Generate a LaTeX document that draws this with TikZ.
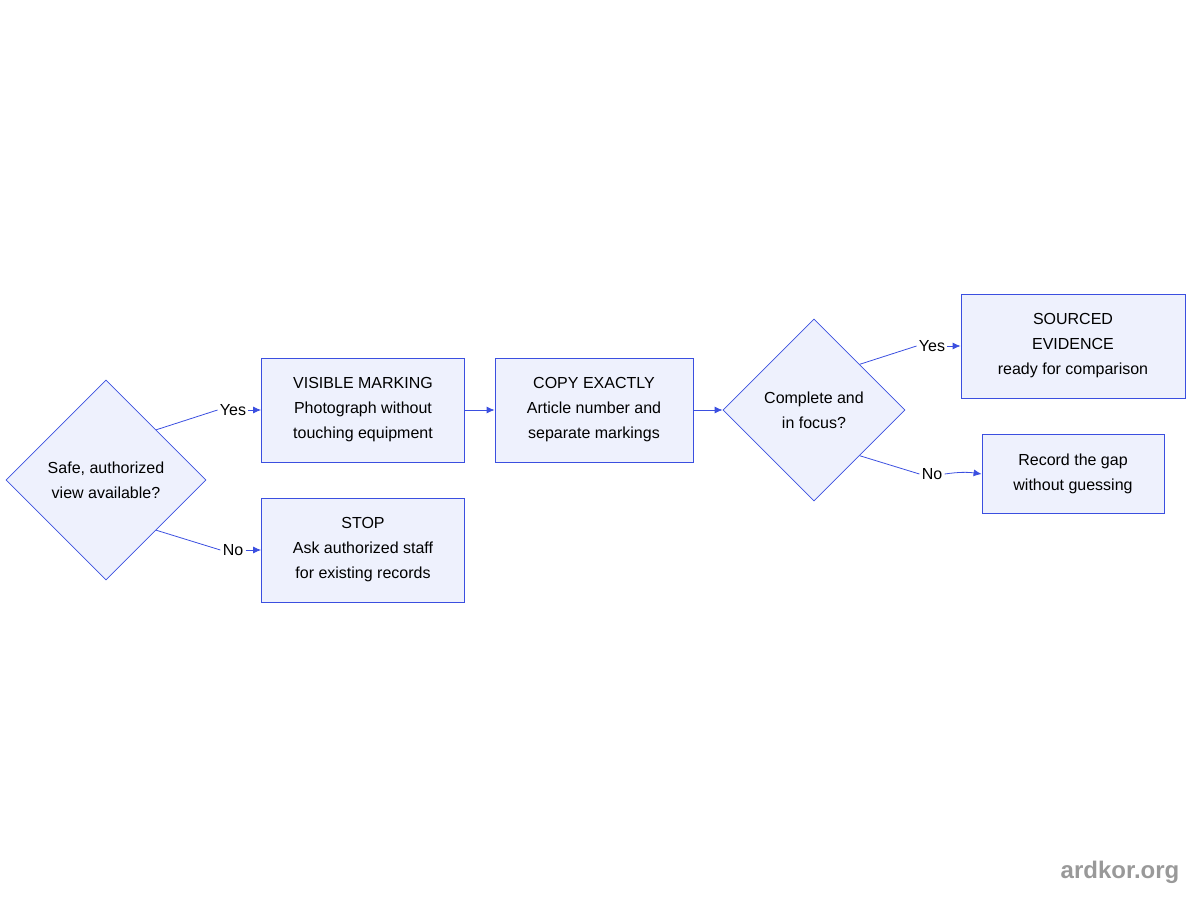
\documentclass[tikz,border=0pt]{standalone}
\usepackage{fontspec}
\setmainfont{Liberation Sans}
\usetikzlibrary{shapes.geometric,arrows.meta}
\definecolor{boxfill}{HTML}{EEF1FD}
\definecolor{boxline}{HTML}{3B4FE0}
\tikzset{
  task/.style={draw=boxline, fill=boxfill, align=center, font=\fontsize{8}{12.5}\selectfont, inner sep=0pt},
  check/.style={task, diamond, aspect=1},
  lbl/.style={font=\fontsize{8}{10}\selectfont, fill=white, inner sep=1pt},
  link/.style={boxline, line width=0.4pt},
  flow/.style={link, -{Latex[length=4pt,width=3.5pt]}}
}
\begin{document}
\begin{tikzpicture}[x=0.5pt,y=-0.5pt]
  \useasboundingbox (0,0) rectangle (1200,900);
  % decisions
  \node[check, minimum width=100pt, minimum height=100pt] (safe) at (106,480) {Safe, authorized\\view available?};
  \node[check, minimum width=91pt, minimum height=91pt] (focus) at (814,410) {Complete and\\in focus?};
  % steps
  \node[task, minimum width=101.5pt, minimum height=52pt] (visible) at (363,410) {VISIBLE MARKING\\Photograph without\\touching equipment};
  \node[task, minimum width=101.5pt, minimum height=52pt] (stop) at (363,550) {STOP\\Ask authorized staff\\for existing records};
  \node[task, minimum width=99pt, minimum height=52pt] (copy) at (594,410) {COPY EXACTLY\\Article number and\\separate markings};
  \node[task, minimum width=112pt, minimum height=52pt] (sourced) at (1073,346) {SOURCED\\EVIDENCE\\ready for comparison};
  \node[task, minimum width=91pt, minimum height=39.5pt] (gap) at (1073,474) {Record the gap\\without guessing};
  % labels
  \node[lbl] (yesA) at (233,410) {Yes};
  \node[lbl] (noA) at (233,550) {No};
  \node[lbl] (yesB) at (932,346) {Yes};
  \node[lbl] (noB) at (932,474) {No};
  % connectors
  \draw[link] (safe.north east) -- (yesA.west);
  \draw[flow] (yesA.east) -- (visible.west);
  \draw[link] (safe.south east) -- (noA.west);
  \draw[flow] (noA.east) -- (stop.west);
  \draw[flow] (visible.east) -- (copy.west);
  \draw[flow] (copy.east) -- (focus.west);
  \draw[link] (focus.north east) -- (yesB.west);
  \draw[flow] (yesB.east) -- (sourced.west);
  \draw[link] (focus.south east) -- (noB.west);
  \draw[flow] (noB.east) to[bend left=8] (gap.west);
  % watermark
  \node[font=\bfseries\fontsize{12}{14}\selectfont, text=gray!80] (mark) at (1120,872) {ardkor.org};
\end{tikzpicture}
\end{document}
